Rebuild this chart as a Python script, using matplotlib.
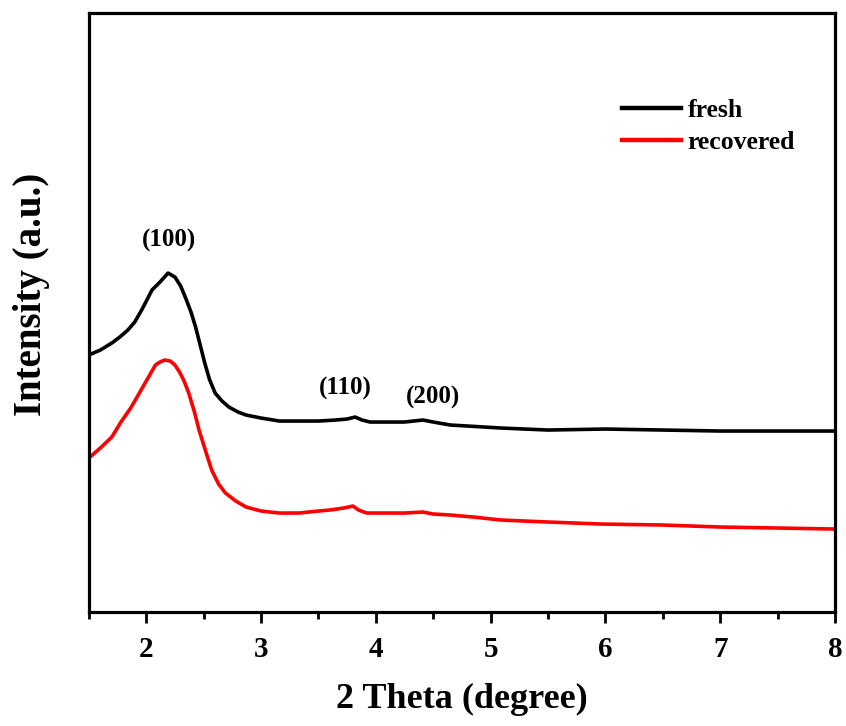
import numpy as np
import matplotlib
matplotlib.use('Agg')
import matplotlib.pyplot as plt
from matplotlib.ticker import MultipleLocator

plt.rcParams['font.family'] = 'Liberation Serif'
plt.rcParams['font.weight'] = 'bold'

# XRD patterns (intensity in arbitrary units)
two_theta_fresh = [1.5, 1.6, 1.7, 1.77, 1.84, 1.9, 1.96, 2.01, 2.05, 2.12, 2.19, 2.25, 2.3, 2.34,
                   2.39, 2.43, 2.47, 2.51, 2.55, 2.6, 2.66, 2.72, 2.8, 2.87, 3.0, 3.16, 3.33,
                   3.5, 3.65, 3.75, 3.82, 3.88, 3.95, 4.1, 4.25, 4.41, 4.5, 4.65, 4.8, 5.09,
                   5.5, 6.0, 6.5, 7.0, 7.5, 8.0]
fresh = [257, 262, 269, 275, 282, 290, 302, 313, 322, 330, 339, 335, 326, 315,
         300, 285, 267, 249, 233, 219, 211, 205, 200, 197, 194, 191, 191,
         191, 192, 193, 195, 192, 190, 190, 190, 192, 190, 187, 186, 184,
         182, 183, 182, 181, 181, 181]

two_theta_rec = [1.5, 1.6, 1.7, 1.78, 1.87, 1.93, 1.99, 2.04, 2.08, 2.12, 2.16, 2.21, 2.25, 2.29,
                 2.33, 2.37, 2.42, 2.46, 2.52, 2.57, 2.63, 2.69, 2.78, 2.87, 3.0, 3.16, 3.33,
                 3.5, 3.6, 3.72, 3.8, 3.85, 3.92, 4.1, 4.25, 4.41, 4.5, 4.65, 4.85, 5.09,
                 5.5, 5.96, 6.5, 7.0, 7.5, 8.0]
recovered = [154, 164, 175, 190, 205, 217, 229, 239, 247, 250, 252, 251, 247, 240,
             231, 219, 200, 182, 160, 142, 128, 119, 111, 105, 101, 99, 99,
             101, 102, 104, 106, 102, 99, 99, 99, 100, 98, 97, 95, 92,
             90, 88, 87, 85, 84, 83]

peak_labels = ['(100)', '(110)', '(200)']
peak_x = [2.2, 3.73, 4.5]
peak_y = [372, 224, 215]

fig = plt.figure(figsize=(8.46, 7.26), dpi=100)
ax = fig.add_axes([0.105, 0.157, 0.882, 0.825])

ax.plot(two_theta_fresh, fresh, color='black', lw=2.6, label='fresh')
ax.plot(two_theta_rec, recovered, color='red', lw=2.6, label='recovered')

for lab, x, y in zip(peak_labels, peak_x, peak_y):
    ax.text(x, y, lab, ha='center', va='center', fontsize=18, fontweight='bold')

ax.set_xlim(1.5, 8)
ax.set_ylim(0, 599)
ax.xaxis.set_major_locator(MultipleLocator(1))
ax.xaxis.set_minor_locator(MultipleLocator(0.5))
ax.set_yticks([])
ax.tick_params(axis='x', which='major', direction='out', length=8, width=2, labelsize=21, pad=9)
ax.tick_params(axis='x', which='minor', direction='out', length=5, width=2)
for s in ax.spines.values():
    s.set_linewidth(2.3)

ax.set_xlabel('2 Theta (degree)', fontsize=26, fontweight='bold', labelpad=15)
ax.set_ylabel('Intensity (a.u.)', fontsize=28, fontweight='bold')
ax.yaxis.set_label_coords(-0.052, 0.531)

leg = ax.legend(loc='upper left', bbox_to_anchor=(0.714, 0.857), frameon=False, fontsize=18.5,
                handlelength=2.33, handletextpad=0.23, labelspacing=0.38, borderaxespad=0, borderpad=0)
for h in leg.get_lines():
    h.set_linewidth(3.2)

plt.savefig('out.png', dpi=100)
